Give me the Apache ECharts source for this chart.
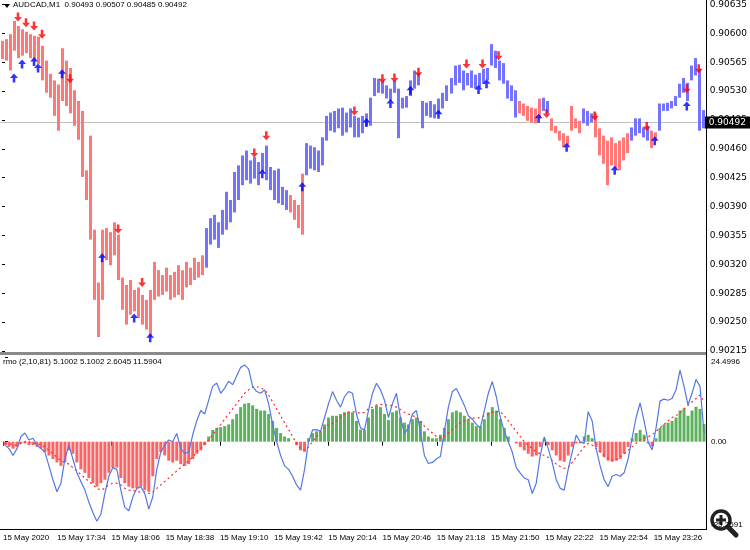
<!DOCTYPE html>
<html>
<head>
<meta charset="utf-8">
<script src="https://cdn.jsdelivr.net/npm/echarts@6/dist/echarts.min.js"></script>
<style>
  html, body { margin: 0; padding: 0; background: #fff; }
  #chart { width: 750px; height: 550px; }
</style>
</head>
<body>
<div id="chart"></div>
<script>
// AUDCAD M1 bars (high / low), one entry per drawn bar
var highs = [
  0.90591,0.90593,0.90599,0.90615,0.90609,0.90605,0.90602,0.90599,0.90597,0.90596,
  0.90585,0.90567,0.90551,0.90543,0.90538,0.90582,0.90567,0.90558,0.90531,0.90518,
  0.90506,0.90434,0.90476,0.90362,0.90298,0.90362,0.90364,0.90359,0.90371,0.90356,
  0.90304,0.90295,0.90301,0.90289,0.90292,0.90283,0.90277,0.90289,0.90323,0.90313,
  0.90307,0.90316,0.90307,0.90311,0.90319,0.90313,0.90323,0.90316,0.90328,0.90323,
  0.90331,0.90364,0.90376,0.90380,0.90371,0.90386,0.90408,0.90398,0.90432,0.90440,
  0.90452,0.90458,0.90446,0.90450,0.90444,0.90455,0.90464,0.90438,0.90434,0.90436,
  0.90414,0.90410,0.90404,0.90398,0.90392,0.90430,0.90467,0.90464,0.90462,0.90458,
  0.90474,0.90500,0.90504,0.90506,0.90509,0.90510,0.90504,0.90509,0.90500,0.90498,
  0.90500,0.90503,0.90522,0.90546,0.90545,0.90543,0.90537,0.90533,0.90543,0.90533,
  0.90522,0.90524,0.90543,0.90555,0.90552,0.90518,0.90516,0.90518,0.90514,0.90521,
  0.90528,0.90537,0.90546,0.90561,0.90562,0.90555,0.90552,0.90555,0.90550,0.90552,
  0.90557,0.90558,0.90587,0.90579,0.90567,0.90564,0.90543,0.90537,0.90531,0.90518,
  0.90515,0.90512,0.90510,0.90509,0.90521,0.90522,0.90518,0.90497,0.90488,0.90482,
  0.90479,0.90476,0.90512,0.90497,0.90494,0.90509,0.90506,0.90503,0.90503,0.90485,
  0.90476,0.90470,0.90474,0.90467,0.90470,0.90474,0.90479,0.90486,0.90497,0.90497,
  0.90486,0.90488,0.90482,0.90480,0.90515,0.90515,0.90516,0.90518,0.90524,0.90539,
  0.90546,0.90540,0.90561,0.90570,0.90557,0.90507
];
var lows = [
  0.90569,0.90567,0.90555,0.90579,0.90570,0.90573,0.90576,0.90570,0.90567,0.90563,
  0.90543,0.90528,0.90522,0.90500,0.90482,0.90518,0.90512,0.90503,0.90488,0.90471,
  0.90426,0.90398,0.90350,0.90277,0.90232,0.90277,0.90325,0.90319,0.90331,0.90301,
  0.90265,0.90247,0.90259,0.90263,0.90255,0.90247,0.90241,0.90232,0.90277,0.90281,
  0.90283,0.90287,0.90277,0.90280,0.90283,0.90277,0.90292,0.90295,0.90301,0.90304,
  0.90307,0.90316,0.90344,0.90350,0.90340,0.90356,0.90362,0.90371,0.90383,0.90398,
  0.90416,0.90422,0.90418,0.90424,0.90416,0.90432,0.90422,0.90410,0.90398,0.90394,
  0.90392,0.90386,0.90383,0.90374,0.90364,0.90356,0.90428,0.90436,0.90434,0.90432,
  0.90440,0.90470,0.90482,0.90480,0.90485,0.90476,0.90480,0.90486,0.90474,0.90474,
  0.90479,0.90488,0.90488,0.90524,0.90528,0.90527,0.90521,0.90518,0.90528,0.90473,
  0.90509,0.90510,0.90524,0.90533,0.90537,0.90485,0.90500,0.90498,0.90497,0.90503,
  0.90509,0.90518,0.90527,0.90537,0.90540,0.90531,0.90537,0.90534,0.90533,0.90535,
  0.90539,0.90543,0.90561,0.90558,0.90543,0.90539,0.90521,0.90518,0.90498,0.90503,
  0.90500,0.90494,0.90492,0.90491,0.90497,0.90506,0.90503,0.90482,0.90479,0.90470,
  0.90462,0.90464,0.90482,0.90485,0.90479,0.90491,0.90488,0.90492,0.90474,0.90452,
  0.90442,0.90416,0.90440,0.90436,0.90434,0.90446,0.90455,0.90470,0.90476,0.90479,
  0.90474,0.90470,0.90461,0.90470,0.90482,0.90506,0.90506,0.90509,0.90512,0.90522,
  0.90528,0.90518,0.90543,0.90549,0.90482,0.90485
];
// trend direction runs: [direction, number of bars]  (1 = blue, -1 = red)
var trendRuns = [[-1,51],[1,21],[-1,4],[1,53],[-1,6],[1,2],[-1,8],[1,3],[-1,9],[1,5],[-1,2],[1,12]];

var upArrowBars   = [3,5,8,9,15,25,33,37,65,75,91,97,102,109,119,121,134,141,153,163,171];
var upArrowPrices = [0.90546,0.90563,0.90566,0.90558,0.90551,0.90328,0.90255,0.90231,0.90430,0.90414,0.90492,
                     0.90515,0.90531,0.90502,0.90532,0.90539,0.90497,0.90462,0.90434,0.90470,0.90512];
var downArrowBars   = [4,6,8,10,17,29,35,63,66,88,95,98,104,116,120,124,136,148,161,171,174];
var downArrowPrices = [0.90620,0.90613,0.90609,0.90599,0.90545,0.90363,0.90298,0.90455,0.90476,0.90506,0.90545,
                       0.90546,0.90553,0.90563,0.90563,0.90573,0.90503,0.90500,0.90487,0.90533,0.90557];

var lastPrice = 0.90492;
var headerText = 'AUDCAD,M1  0.90493 0.90507 0.90485 0.90492';

// rmo indicator
var rmoHist = [
  -1.0,-1.5,-2.0,-1.5,-0.5,-0.5,-1.0,-1.0,-1.5,-2.0,
  -3.0,-4.0,-5.0,-6.0,-7.0,-6.0,-2.5,-3.5,-6.0,-8.0,
  -9.0,-10.5,-12.0,-13.0,-12.0,-11.0,-9.0,-7.5,-7.5,-10.5,
  -12.0,-13.0,-13.5,-13.5,-13.0,-14.0,-14.5,-10.0,-5.0,-3.0,
  -4.0,-5.5,-6.0,-5.5,-6.5,-7.0,-6.5,-5.0,-3.5,-2.5,
  -1.0,1.5,3.4,4.0,4.2,4.5,5.0,6.5,8.0,10.0,
  11.0,11.2,10.5,9.5,9.0,9.0,8.0,6.0,4.0,2.5,
  1.5,1.0,0.0,-1.0,-2.5,-2.9,1.0,2.5,3.0,3.0,
  5.0,7.0,7.5,7.5,8.0,8.5,8.7,8.5,6.0,3.5,
  3.4,7.0,9.5,10.5,10.0,8.0,6.3,8.5,9.0,7.0,
  5.5,5.0,6.5,7.0,6.0,3.0,1.5,1.0,1.0,2.0,
  4.0,6.5,8.5,9.0,8.5,7.5,6.5,5.5,4.5,4.5,
  6.5,8.5,10.0,9.0,6.5,4.0,1.5,0.0,-0.5,-1.5,
  -2.5,-3.5,-4.3,-4.0,-1.5,0.8,-1.0,-2.5,-4.0,-5.5,
  -5.8,-4.0,-1.5,-0.5,-0.5,1.5,2.0,1.0,-1.5,-3.0,
  -4.5,-5.5,-5.8,-5.5,-5.0,-3.5,-1.5,1.0,2.5,3.4,
  2.0,-0.5,-1.4,1.0,4.0,5.0,5.5,6.0,7.0,9.0,
  9.6,7.5,9.0,10.1,9.5,5.1
];
var rmoMain = [
  -1.0,-2.0,-4.0,-2.0,1.5,2.5,0.5,1.0,-1.0,-2.0,
  -3.0,-7.0,-11.0,-14.5,-12.0,-5.0,-1.0,-5.0,-9.0,-11.5,
  -14.0,-17.5,-20.5,-23.0,-21.0,-15.0,-10.0,-7.5,-8.0,-14.0,
  -19.0,-20.0,-16.0,-13.5,-13.0,-15.0,-19.5,-16.0,-8.0,-3.0,
  -1.0,0.5,0.0,2.4,-2.0,-3.4,-3.0,2.0,6.0,9.0,
  8.0,12.0,16.0,17.0,14.0,15.5,17.5,16.5,19.0,21.5,
  22.2,21.0,16.0,14.5,14.0,15.0,11.0,5.0,0.0,-4.0,
  -7.0,-8.0,-10.0,-12.5,-14.0,-8.0,0.0,3.4,3.5,3.0,
  7.0,11.0,14.5,12.0,10.0,13.0,14.5,14.0,8.0,4.0,
  3.4,9.0,14.0,16.9,15.0,12.0,7.0,11.0,14.0,7.0,
  2.4,4.0,8.0,9.0,3.0,-4.0,-6.3,-6.0,-5.0,-4.3,
  3.0,10.0,14.5,15.4,13.0,10.5,7.5,6.5,5.0,4.0,
  9.0,14.0,17.4,13.0,7.0,3.0,0.0,-3.0,-7.5,-9.1,
  -10.5,-11.0,-15.0,-12.0,-4.0,1.4,-2.0,-6.0,-11.0,-13.5,
  -14.0,-8.0,-3.0,1.9,0.0,-0.5,8.7,6.0,-2.0,-7.0,
  -11.0,-13.0,-10.0,-9.5,-10.0,-9.0,-5.0,1.0,7.0,11.2,
  6.0,0.0,-2.4,4.0,11.8,12.3,12.0,12.5,15.0,20.7,
  16.0,10.6,14.0,18.0,16.0,2.6
];
var rmoSignal = [
  -0.5,-0.5,-1.0,-1.0,-0.5,0.0,0.0,-0.5,-0.5,-1.0,
  -1.5,-2.5,-3.5,-4.5,-5.5,-6.0,-6.5,-7.5,-8.5,-9.5,
  -10.5,-11.5,-12.5,-13.5,-14.0,-13.5,-12.5,-12.0,-12.0,-12.5,
  -13.5,-14.0,-14.0,-14.5,-14.5,-14.5,-15.0,-14.5,-13.5,-12.5,
  -11.5,-10.5,-9.5,-8.5,-7.5,-6.5,-5.5,-4.5,-3.0,-2.0,
  -0.5,0.5,2.0,3.5,5.0,6.5,8.0,9.5,11.0,12.5,
  14.0,15.0,15.8,15.9,15.6,15.0,13.5,11.5,9.5,7.5,
  5.5,3.5,1.5,-0.5,-2.0,-2.4,-1.5,0.0,1.5,3.0,
  4.0,5.0,5.3,6.0,7.0,8.0,8.5,8.7,8.5,8.2,
  8.5,9.5,10.0,10.6,10.8,10.6,10.6,10.4,10.0,9.3,
  8.5,8.0,7.5,7.2,6.0,4.5,3.5,2.5,1.5,1.0,
  1.5,2.5,3.5,4.5,5.5,6.0,6.5,6.8,6.8,7.0,
  7.5,8.0,8.5,8.7,8.7,7.5,6.0,4.5,3.0,1.5,
  0.0,-1.0,-2.0,-3.0,-3.5,-4.0,-4.5,-5.5,-6.5,-7.2,
  -7.7,-7.5,-6.0,-4.5,-3.0,-1.5,-0.5,-1.0,-2.0,-3.0,
  -4.0,-4.8,-5.3,-5.3,-4.5,-3.5,-2.5,-1.5,-0.5,0.5,
  1.0,1.4,2.0,3.0,4.0,5.0,6.0,7.0,7.5,8.5,
  9.5,10.5,11.5,12.5,13.5,11.6
];
var rmoHeader = 'rmo (2,10,81) 5.1002 5.1002 2.6045 11.5904';
var rmoMax = 24.4996;
var rmoMin = -25.2591;

var timeLabels = ['15 May 2020','15 May 17:34','15 May 18:06','15 May 18:38','15 May 19:10','15 May 19:42',
                  '15 May 20:14','15 May 20:46','15 May 21:18','15 May 21:50','15 May 22:22','15 May 22:54','15 May 23:26'];

var trend = [];
trendRuns.forEach(function (r) { for (var k = 0; k < r[1]; k++) trend.push(r[0]); });

var N = highs.length;
var barData = highs.map(function (h, i) { return [i, lows[i], h, trend[i]]; });
var upData = upArrowBars.map(function (b, i) { return [b, upArrowPrices[i]]; });
var downData = downArrowBars.map(function (b, i) { return [b, downArrowPrices[i]]; });
var histData = rmoHist.map(function (v, i) { return [i, v]; });
var mainData = rmoMain.map(function (v, i) { return [i, v]; });
var sigData = rmoSignal.map(function (v, i) { return [i, v]; });
var priceLineData = [[-0.5, lastPrice], [N - 0.5, lastPrice]];

var upPath = 'path://M5,0 L10,5 L6.6,5 L6.6,10 L3.4,10 L3.4,5 L0,5 Z';
var downPath = 'path://M5,10 L10,5 L6.6,5 L6.6,0 L3.4,0 L3.4,5 L0,5 Z';

var chart = echarts.init(document.getElementById('chart'));
var option = {
  animation: false,
  backgroundColor: '#fff',
  grid: [
    { left: 0, right: 44, top: 3, height: 348 },
    { left: 0, right: 44, top: 357, height: 172 }
  ],
  xAxis: [
    { type: 'value', gridIndex: 0, min: -0.5, max: N - 0.5, show: false },
    {
      type: 'value', gridIndex: 1, min: -0.5, max: N - 0.5, interval: 13.575,
      axisLine: { show: false },
      axisTick: { show: true, length: 4, lineStyle: { color: '#000' } },
      splitLine: { show: false },
      axisLabel: {
        align: 'left', margin: 5, color: '#000', fontSize: 8,
        fontFamily: 'Liberation Sans',
        formatter: function (v, idx) { return timeLabels[idx] || ''; }
      }
    }
  ],
  yAxis: [
    {
      type: 'value', gridIndex: 0, position: 'right', min: 0.90215, max: 0.90635, interval: 0.00035,
      axisLine: { show: false },
      axisTick: { show: true, length: 3, lineStyle: { color: '#000' } },
      splitLine: { show: false },
      axisLabel: {
        margin: 5, color: '#000', fontSize: 9, fontFamily: 'DejaVu Sans',
        formatter: function (v) { return v.toFixed(5); }
      }
    },
    {
      type: 'value', gridIndex: 1, position: 'right', min: rmoMin, max: rmoMax,
      axisLine: { show: false },
      axisTick: { show: true, length: 3, customValues: [rmoMax, 0], lineStyle: { color: '#000' } },
      splitLine: { show: false },
      axisLabel: {
        margin: 5, color: '#000', fontSize: 8, fontFamily: 'Liberation Sans',
        customValues: [rmoMax, 0, rmoMin],
        formatter: function (v) {
          if (v > 1) return '{t|' + v.toFixed(4) + '}';
          if (v < -1) return '{b|' + v.toFixed(4) + '}';
          return v.toFixed(2);
        },
        rich: {
          t: { padding: [10, 0, 0, 0], fontSize: 8, fontFamily: 'Liberation Sans', color: '#000' },
          b: { padding: [0, 0, 8, 0], fontSize: 8, fontFamily: 'Liberation Sans', color: '#000' }
        }
      }
    }
  ],
  series: [
    {
      // current price line with its black tag on the scale
      type: 'line', xAxisIndex: 0, yAxisIndex: 0, z: 1, clip: false,
      showSymbol: false, silent: true,
      data: priceLineData,
      lineStyle: { color: '#c0c0c0', width: 1 },
      endLabel: {
        show: true, distance: 0, formatter: lastPrice.toFixed(5),
        backgroundColor: '#000', color: '#fff', padding: [2, 4, 1, 4],
        fontSize: 9, fontFamily: 'DejaVu Sans'
      }
    },
    {
      type: 'custom', xAxisIndex: 0, yAxisIndex: 0, clip: false, z: 2,
      encode: { x: 0, y: [1, 2] },
      data: barData,
      renderItem: function (params, api) {
        var lo = api.coord([api.value(0), api.value(1)]);
        var hi = api.coord([api.value(0), api.value(2)]);
        return {
          type: 'rect',
          shape: { x: Math.round(lo[0]) - 1, y: hi[1], width: 3, height: Math.max(1, lo[1] - hi[1]) },
          style: { fill: api.value(3) > 0 ? '#7373ff' : '#ff7878' }
        };
      }
    },
    {
      type: 'scatter', xAxisIndex: 0, yAxisIndex: 0, z: 4,
      symbol: upPath, symbolSize: [8, 9],
      itemStyle: { color: '#0000ff' },
      data: upData
    },
    {
      type: 'scatter', xAxisIndex: 0, yAxisIndex: 0, z: 4,
      symbol: downPath, symbolSize: [8, 9],
      itemStyle: { color: '#ff0000' },
      data: downData
    },
    {
      type: 'bar', xAxisIndex: 1, yAxisIndex: 1, barWidth: 3,
      data: histData,
      itemStyle: {
        color: function (p) { return p.value[1] >= 0 ? '#5cb15c' : '#ff6262'; }
      }
    },
    {
      type: 'line', xAxisIndex: 1, yAxisIndex: 1, showSymbol: false, z: 4,
      data: mainData,
      lineStyle: { color: '#5577e6', width: 1.2 }
    },
    {
      type: 'line', xAxisIndex: 1, yAxisIndex: 1, showSymbol: false, z: 3,
      data: sigData,
      lineStyle: { color: '#ff2a2a', width: 1.2, type: [2, 3] }
    }
  ],
  graphic: [
    { type: 'polygon', shape: { points: [[4, 4], [10, 4], [7, 8]] }, style: { fill: '#000' } },
    { type: 'text', left: 13, top: 1, style: { text: headerText, fill: '#000', font: '8px "Liberation Sans"' } },
    { type: 'text', left: 3, top: 358, style: { text: rmoHeader, fill: '#000', font: '8px "Liberation Sans"' } },
    { type: 'rect', shape: { x: 0, y: 352, width: 706, height: 3 }, style: { fill: '#8a8a8a' } },
    { type: 'line', shape: { x1: 706.5, y1: 0, x2: 706.5, y2: 530 }, style: { stroke: '#000', lineWidth: 1 } },
    { type: 'line', shape: { x1: 0, y1: 529.5, x2: 706, y2: 529.5 }, style: { stroke: '#000', lineWidth: 1 } },
    {
      type: 'group', z: 100,
      children: [
        { type: 'line', shape: { x1: 729, y1: 528, x2: 736, y2: 535 }, style: { stroke: '#222', lineWidth: 5, lineCap: 'round' } },
        { type: 'circle', shape: { cx: 721, cy: 520, r: 9 }, style: { fill: '#fff', stroke: '#222', lineWidth: 3.5 } },
        { type: 'rect', shape: { x: 716, y: 518.5, width: 10, height: 3 }, style: { fill: '#222' } },
        { type: 'rect', shape: { x: 719.5, y: 515, width: 3, height: 10 }, style: { fill: '#222' } }
      ]
    }
  ]
};
chart.setOption(option);
</script>
</body>
</html>
